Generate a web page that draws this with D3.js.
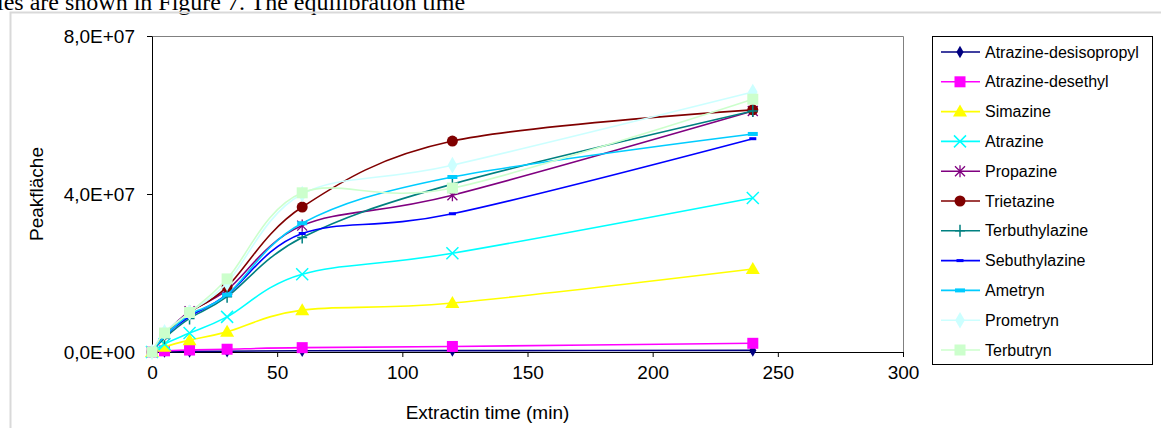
<!DOCTYPE html>
<html>
<head>
<meta charset="utf-8">
<script src="https://cdn.jsdelivr.net/npm/d3@7"></script>
<style>
  body { margin: 0; background: #fff; }
  svg { display: block; }
</style>
</head>
<body>
<svg></svg>
<script>
// extraction times (min)
var times = [0, 5, 15, 30, 60, 120, 240];

var names = ["Atrazine-desisopropyl", "Atrazine-desethyl", "Simazine", "Atrazine", "Propazine",
             "Trietazine", "Terbuthylazine", "Sebuthylazine", "Ametryn", "Prometryn", "Terbutryn"];

// peak areas, in units of 1E6
var desisopropyl   = [0, 0.1, 0.15, 0.2, 0.3, 0.35, 0.4];
var desethyl       = [0, 0.3, 0.5, 0.7, 1.1, 1.4, 2.2];
var simazine       = [0, 1.3, 3.0, 5.1, 10.6, 12.4, 21.0];
var atrazine       = [0, 2.0, 4.8, 8.9, 19.7, 25.0, 39.0];
var propazine      = [0, 4.5, 10.3, 15.7, 32.0, 39.7, 61.0];
var trietazine     = [0, 4.5, 10.0, 16.5, 36.7, 53.4, 61.3];
var terbuthylazine = [0, 3.5, 8.5, 14.0, 29.0, 42.5, 61.0];
var sebuthylazine  = [0, 4.0, 9.0, 14.5, 30.0, 35.0, 54.0];
var ametryn        = [0, 4.0, 9.5, 14.5, 32.6, 44.3, 55.2];
var prometryn      = [0, 5.0, 10.0, 17.5, 40.0, 47.3, 65.8];
var terbutryn      = [0, 4.8, 10.0, 18.5, 40.3, 41.5, 64.0];

var xTicks = [0, 50, 100, 150, 200, 250, 300];
var yTicks = [0, 4e7, 8e7];
var yTickLabels = ["0,0E+00", "4,0E+07", "8,0E+07"];

var allValues = [desisopropyl, desethyl, simazine, atrazine, propazine, trietazine,
                 terbuthylazine, sebuthylazine, ametryn, prometryn, terbutryn];

var colors = ["#000080", "#ff00ff", "#ffff00", "#00ffff", "#800080", "#800000",
              "#008080", "#0000ff", "#00ccff", "#ccffff", "#ccffcc"];
var markers = ["diamond", "square", "triangle", "x", "asterisk", "circle",
               "plus", "dashS", "dashL", "diamondL", "squareL"];

var series = names.map(function(n, i){
  return {
    name: n,
    color: colors[i],
    marker: markers[i],
    values: allValues[i].map(function(v, j){ return {t: times[j], v: v * 1e6}; })
  };
});

var width = 1161, height = 428;
var svg = d3.select("svg").attr("width", width).attr("height", height);

var plot = {left: 152, right: 903, top: 36, bottom: 352};

// page text above the chart (cut off at the top, as in the source) and the chart frame
svg.append("text")
   .attr("x", -3).attr("y", 10)
   .style("font-family", "'Liberation Serif', serif")
   .style("font-size", "24px")
   .text("ies are shown in Figure 7. The equilibration time");

svg.append("rect")
   .attr("x", 10.5).attr("y", 12.5)
   .attr("width", 1200).attr("height", 500)
   .attr("fill", "none").attr("stroke", "#d9d9d9").attr("stroke-width", 2);

var xScale = d3.scaleLinear().domain([0, 300]).range([plot.left, plot.right]);
var yScale = d3.scaleLinear().domain([0, 8e7]).range([plot.bottom, plot.top]);

// plot area border (top, right)
svg.append("path")
   .attr("d", "M" + plot.left + "," + (plot.top + 0.5) + "H" + (plot.right + 0.5) + "V" + plot.bottom)
   .attr("fill", "none").attr("stroke", "#808080").attr("stroke-width", 1);

var xAxis = d3.axisBottom(xScale).tickValues(xTicks).tickSize(5).tickPadding(9).tickSizeOuter(0);
var yAxis = d3.axisLeft(yScale).tickValues(yTicks).tickSize(5).tickPadding(12).tickSizeOuter(0)
              .tickFormat(function(d, i){ return yTickLabels[i]; });

var gx = svg.append("g")
   .attr("transform", "translate(0," + plot.bottom + ")")
   .call(xAxis);
var gy = svg.append("g")
   .attr("transform", "translate(" + plot.left + ",0)")
   .call(yAxis);

[gx, gy].forEach(function(g){
  g.selectAll("path, line").attr("stroke", "#000");
  g.selectAll("text")
   .attr("fill", "#000")
   .style("font-family", "'Liberation Sans', Arial, sans-serif")
   .style("font-size", "19px");
});

svg.append("text")
   .attr("x", (plot.left + plot.right) / 2 - 40).attr("y", 419)
   .attr("text-anchor", "middle")
   .style("font-family", "'Liberation Sans', Arial, sans-serif")
   .style("font-size", "19px")
   .text("Extractin time (min)");

svg.append("text")
   .attr("transform", "translate(43," + ((plot.top + plot.bottom) / 2) + ") rotate(-90)")
   .attr("text-anchor", "middle")
   .style("font-family", "'Liberation Sans', Arial, sans-serif")
   .style("font-size", "19px")
   .text("Peakfläche");

var line = d3.line()
  .x(function(d){ return xScale(d.t); })
  .y(function(d){ return yScale(d.v); })
  .curve(d3.curveCardinal.tension(0));

// draw one marker into a group at (0,0)
function drawMarker(g, type, color){
  var sym = function(t, s){ return d3.symbol().type(t).size(s)(); };
  if (type === "diamond") {
    g.append("path").attr("d", sym(d3.symbolDiamond, 45)).attr("fill", color);
  } else if (type === "diamondL") {
    g.append("path").attr("d", sym(d3.symbolDiamond, 80)).attr("fill", color);
  } else if (type === "square" || type === "squareL") {
    g.append("rect").attr("x", -5.5).attr("y", -5.5).attr("width", 11).attr("height", 11).attr("fill", color);
  } else if (type === "triangle") {
    g.append("path").attr("d", "M0,-7L7,5L-7,5Z").attr("fill", color);
  } else if (type === "x") {
    g.append("path").attr("d", "M-6,-6L6,6M-6,6L6,-6").attr("stroke", color).attr("stroke-width", 1.5);
  } else if (type === "asterisk") {
    g.append("path").attr("d", "M-5,-5L5,5M-5,5L5,-5M0,-6V6").attr("stroke", color).attr("stroke-width", 1.3);
  } else if (type === "circle") {
    g.append("circle").attr("r", 5.5).attr("fill", color);
  } else if (type === "plus") {
    g.append("path").attr("d", "M-5,0H5M0,-6V6").attr("stroke", color).attr("stroke-width", 1.5);
  } else if (type === "dashS") {
    g.append("rect").attr("x", -3.5).attr("y", -1.5).attr("width", 7).attr("height", 3).attr("fill", color);
  } else if (type === "dashL") {
    g.append("rect").attr("x", -5).attr("y", -2).attr("width", 10).attr("height", 4).attr("fill", color);
  }
}

var chart = svg.append("g");
series.forEach(function(s){
  chart.append("path")
     .datum(s.values)
     .attr("d", line)
     .attr("fill", "none")
     .attr("stroke", s.color)
     .attr("stroke-width", 1.6);
  s.values.forEach(function(d){
    var g = chart.append("g").attr("transform", "translate(" + xScale(d.t) + "," + yScale(d.v) + ")");
    drawMarker(g, s.marker, s.color);
  });
});

// legend
var legend = svg.append("g");
legend.append("rect")
   .attr("x", 932.5).attr("y", 36.5)
   .attr("width", 220).attr("height", 328)
   .attr("fill", "#fff").attr("stroke", "#000").attr("stroke-width", 1);

var legendY = d3.scalePoint().domain(names).range([52, 350]);

series.forEach(function(s){
  var y = legendY(s.name);
  legend.append("line")
     .attr("x1", 941).attr("x2", 980)
     .attr("y1", y).attr("y2", y)
     .attr("stroke", s.color).attr("stroke-width", 1.6);
  var g = legend.append("g").attr("transform", "translate(960," + y + ")");
  drawMarker(g, s.marker, s.color);
  legend.append("text")
     .attr("x", 985).attr("y", y)
     .attr("dy", "0.35em")
     .style("font-family", "'Liberation Sans', Arial, sans-serif")
     .style("font-size", "16px")
     .text(s.name);
});
</script>
</body>
</html>
